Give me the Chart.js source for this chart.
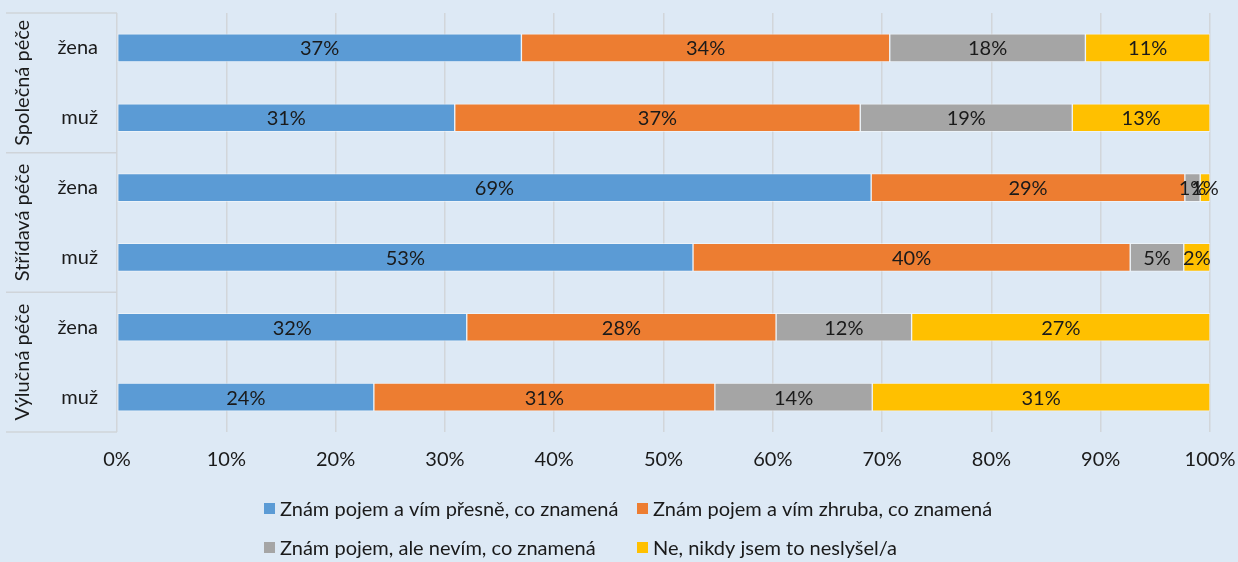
<!DOCTYPE html>
<html>
<head>
<meta charset="utf-8">
<script src="https://cdn.jsdelivr.net/npm/chart.js@4"></script>
<style>
  html, body { margin: 0; padding: 0; background: #dde9f5; }
  canvas { display: block; }
</style>
</head>
<body>
<canvas id="chart" width="1238" height="562"></canvas>
<script>
// data
const groups = ['Společná péče', 'Střídavá péče', 'Výlučná péče'];
const categories = ['žena', 'muž', 'žena', 'muž', 'žena', 'muž'];
const seriesNames = [
    'Znám pojem a vím přesně, co znamená',
    'Znám pojem a vím zhruba, co znamená',
    'Znám pojem, ale nevím, co znamená',
    'Ne, nikdy jsem to neslyšel/a'
];
const knowExactly = [37.0, 30.9, 69.0, 52.7, 32.0, 23.5];
const knowRoughly = [33.7, 37.1, 28.7, 40.0, 28.3, 31.2];
const knowTermOnly = [17.9, 19.4, 1.4, 4.9, 12.4, 14.4];
const neverHeard = [11.4, 12.6, 0.9, 2.4, 27.3, 30.9];
const xTicks = [0, 10, 20, 30, 40, 50, 60, 70, 80, 90, 100];

const colors = ['#5b9bd5', '#ed7d31', '#a5a5a5', '#ffc000'];
const fontFamily = 'Lato, "Liberation Sans", sans-serif';
const fontSize = 20;
const textColor = '#1a1a1a';

Chart.defaults.font.family = fontFamily;
Chart.defaults.font.size = fontSize;
Chart.defaults.color = textColor;

// labels in the middle of every bar segment
const segmentLabels = {
    id: 'segmentLabels',
    afterDatasetsDraw(chart) {
        const ctx = chart.ctx;
        ctx.save();
        ctx.font = fontSize + 'px ' + fontFamily;
        ctx.fillStyle = textColor;
        ctx.textAlign = 'center';
        ctx.textBaseline = 'middle';
        chart.data.datasets.forEach((ds, i) => {
            chart.getDatasetMeta(i).data.forEach((bar, j) => {
                const x = (bar.x + bar.base) / 2;
                ctx.fillText(Math.round(ds.data[j]) + '%', x, bar.y + 1);
            });
        });
        ctx.restore();
    }
};

// group labels and separators on the left
const groupAxis = {
    id: 'groupAxis',
    afterDraw(chart) {
        const ctx = chart.ctx;
        const y = chart.scales.y;
        const area = chart.chartArea;
        const per = categories.length / groups.length;
        ctx.save();
        ctx.strokeStyle = '#cfd4d9';
        ctx.lineWidth = 1.5;
        const bounds = [area.top];
        for (let g = 1; g < groups.length; g++) {
            bounds.push((y.getPixelForValue(g * per - 1) + y.getPixelForValue(g * per)) / 2);
        }
        bounds.push(area.bottom);
        bounds.forEach(b => {
            ctx.beginPath();
            ctx.moveTo(6, b);
            ctx.lineTo(area.left, b);
            ctx.stroke();
        });
        ctx.font = fontSize + 'px ' + fontFamily;
        ctx.fillStyle = textColor;
        ctx.textAlign = 'center';
        ctx.textBaseline = 'middle';
        groups.forEach((g, i) => {
            const cy = (bounds[i] + bounds[i + 1]) / 2;
            ctx.save();
            ctx.translate(23, cy);
            ctx.rotate(-Math.PI / 2);
            ctx.fillText(g, 0, 0);
            ctx.restore();
        });
        ctx.restore();
    }
};

// legend in two columns
const columnLegend = {
    id: 'columnLegend',
    afterDraw(chart) {
        const ctx = chart.ctx;
        const colX = [264, 637];
        const rowY = [509, 548];
        ctx.save();
        ctx.font = fontSize + 'px ' + fontFamily;
        ctx.textBaseline = 'middle';
        chart.data.datasets.forEach((ds, i) => {
            const x = colX[i % 2];
            const yy = rowY[Math.floor(i / 2)];
            ctx.fillStyle = ds.backgroundColor;
            ctx.fillRect(x, yy - 6, 11, 11);
            ctx.fillStyle = textColor;
            ctx.fillText(ds.label, x + 16, yy + 1);
        });
        ctx.restore();
    }
};

const datasets = [knowExactly, knowRoughly, knowTermOnly, neverHeard].map((values, i) => ({
    label: seriesNames[i],
    data: values,
    backgroundColor: colors[i],
    borderColor: 'rgba(255,255,255,0.45)',
    borderWidth: 1,
    borderSkipped: false,
    barThickness: 28
}));

new Chart(document.getElementById('chart'), {
    type: 'bar',
    data: { labels: categories, datasets: datasets },
    options: {
        indexAxis: 'y',
        responsive: false,
        animation: false,
        devicePixelRatio: 1,
        layout: { padding: { left: 0, right: 28, top: 13, bottom: 90 } },
        scales: {
            x: {
                stacked: true,
                min: 0,
                max: 100,
                afterBuildTicks: scale => { scale.ticks = xTicks.map(v => ({ value: v })); },
                ticks: { padding: 16, callback: v => v + '%', maxRotation: 0 },
                grid: { color: '#d2d6da', lineWidth: 1.5, drawTicks: false },
                border: { display: false },
                afterFit: scale => {
                    scale.height = 40;
                    scale.paddingLeft = 0;
                    scale.paddingRight = 0;
                }
            },
            y: {
                stacked: true,
                ticks: { padding: 19 },
                grid: { display: false, drawTicks: false },
                border: { display: false },
                afterFit: scale => {
                    scale.width = 117;
                    scale.paddingTop = 0;
                    scale.paddingBottom = 0;
                }
            }
        },
        plugins: {
            legend: { display: false },
            tooltip: { enabled: false }
        }
    },
    plugins: [segmentLabels, groupAxis, columnLegend]
});
</script>
</body>
</html>
